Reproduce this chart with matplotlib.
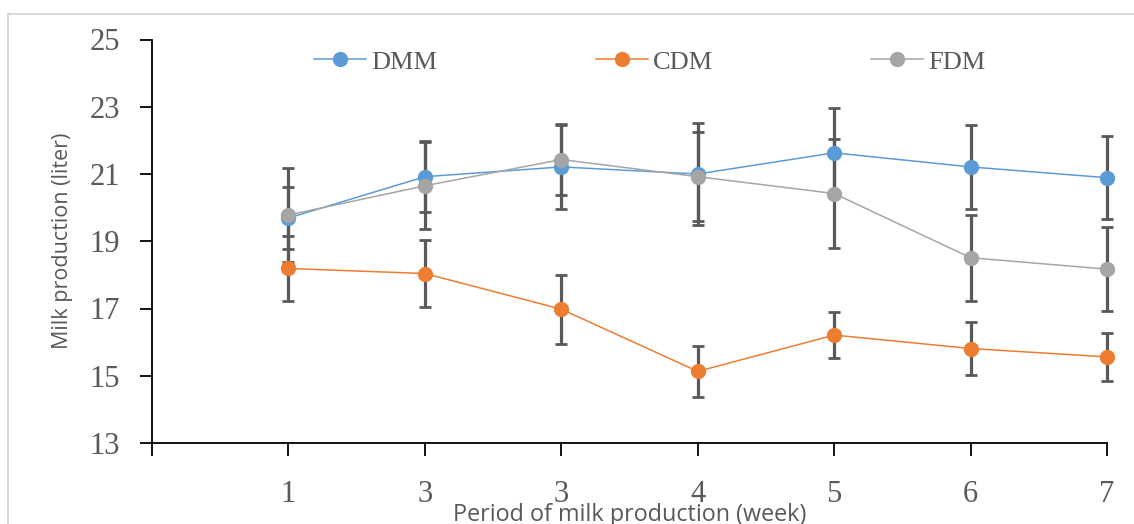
import matplotlib
matplotlib.use('Agg')
import matplotlib.pyplot as plt
from matplotlib.patches import Rectangle

# Data
weeks = [1, 2, 3, 4, 5, 6, 7]
week_labels = ['1', '3', '3', '4', '5', '6', '7']

dmm = [19.69, 20.92, 21.21, 21.00, 21.63, 21.21, 20.89]
dmm_err = [0.92, 1.05, 1.25, 1.53, 1.32, 1.25, 1.24]

cdm = [18.19, 18.04, 16.98, 15.13, 16.21, 15.81, 15.56]
cdm_err = [0.98, 1.00, 1.03, 0.76, 0.68, 0.78, 0.72]

fdm = [19.78, 20.65, 21.43, 20.92, 20.42, 18.51, 18.17]
fdm_err = [1.40, 1.30, 1.05, 1.33, 1.62, 1.28, 1.25]

series = [('DMM', dmm, dmm_err, '#5B9BD5'),
          ('CDM', cdm, cdm_err, '#ED7D31'),
          ('FDM', fdm, fdm_err, '#A5A5A5')]

serif = 'Liberation Serif'
sans = 'Open Sans'
text_gray = '#595959'

fig = plt.figure(figsize=(11.34, 5.24), dpi=100)
ax = fig.add_axes([152 / 1134, 81 / 524, 955 / 1134, 403.5 / 524])

# light chart border (cropped on right/bottom in the original)
fig.patches.append(Rectangle((8 / 1134, -0.1), 1.2, (524 - 14) / 524 + 0.1,
                             transform=fig.transFigure, fill=False,
                             edgecolor='#D9D9D9', linewidth=1.5))

# error bars first, markers on top
for name, vals, err, col in series:
    eb = ax.errorbar(weeks, vals, yerr=err, fmt='none', ecolor=text_gray,
                     elinewidth=2.3, capsize=4.5, capthick=2.0, zorder=2)
    for art in eb.lines[1] + eb.lines[2]:
        art.set_clip_on(False)
for name, vals, err, col in series:
    ax.plot(weeks, vals, color=col, linewidth=1.1, marker='o',
            markersize=10, markeredgecolor=col, label=name, zorder=3,
            clip_on=False)

ax.set_xlim(0, 7)
ax.set_ylim(13, 25)
ax.set_yticks([13, 15, 17, 19, 21, 23, 25])
ax.set_xticks([0] + weeks)
ax.set_xticklabels([''] + week_labels)

for s in ['top', 'right']:
    ax.spines[s].set_visible(False)
for s in ['left', 'bottom']:
    ax.spines[s].set_linewidth(1.3)
    ax.spines[s].set_color('black')

ax.tick_params(axis='y', direction='out', length=9, width=1.3, pad=14,
               labelsize=22, labelcolor=text_gray)
ax.tick_params(axis='x', direction='out', length=9, width=1.3, pad=18,
               labelsize=22, labelcolor=text_gray)
for lab in ax.get_xticklabels() + ax.get_yticklabels():
    lab.set_fontfamily(serif)

ax.set_ylabel('Milk production (liter)', fontsize=15.5, color=text_gray,
              fontfamily=sans, labelpad=12)
fig.text(630 / 1134, (524 - 503) / 524, 'Period of milk production (week)',
         ha='center', va='top', fontsize=16.8, color=text_gray, fontfamily=sans)

leg = fig.legend(loc='center left', bbox_to_anchor=(314 / 1134, (524 - 62) / 524),
                 ncol=3, frameon=False, borderpad=0, borderaxespad=0,
                 handlelength=1.97, handletextpad=0.2, columnspacing=6.0,
                 prop={'family': serif, 'size': 19})
for t in leg.get_texts():
    t.set_color(text_gray)

fig.savefig('out.png', dpi=100)
